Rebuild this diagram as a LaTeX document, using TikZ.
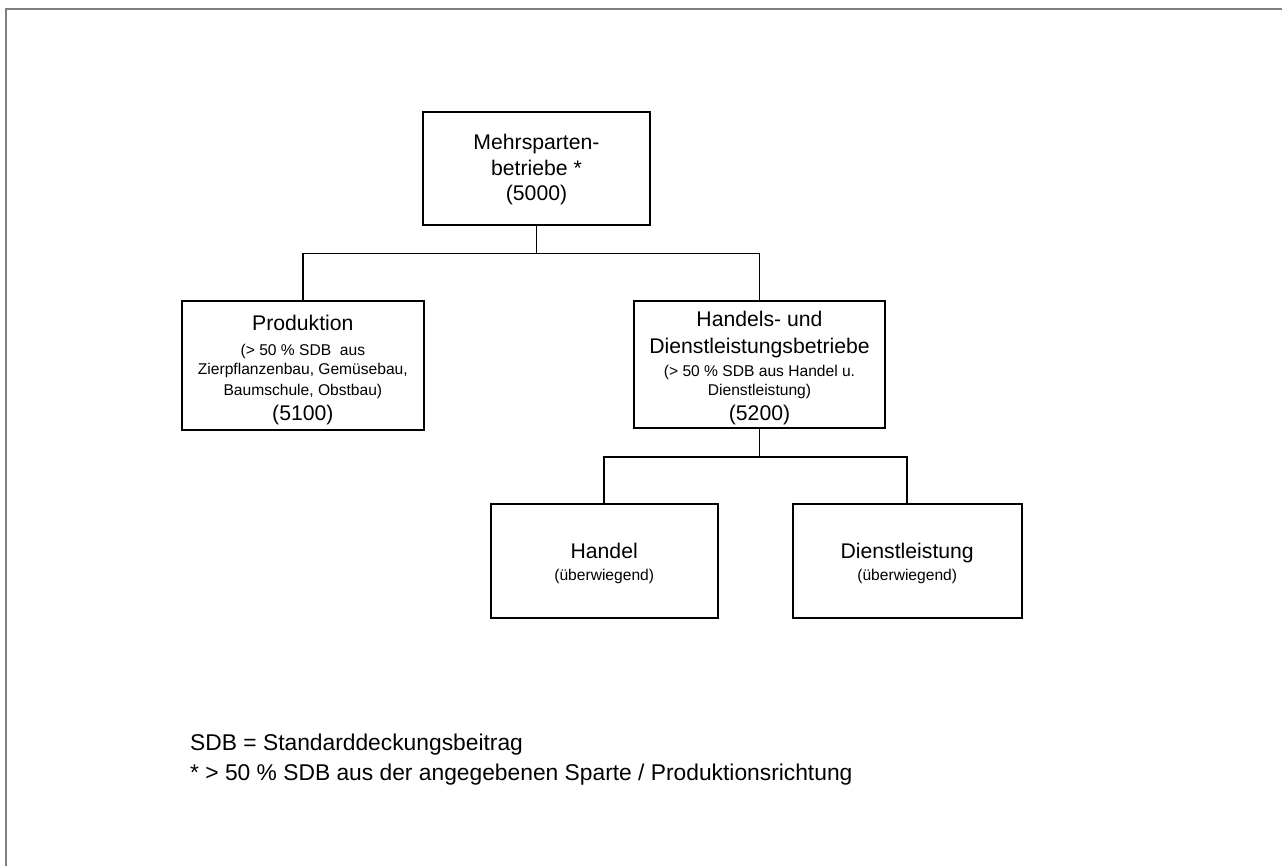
\documentclass[tikz,border=0pt]{standalone}
\usepackage{fontspec}
\setmainfont{Liberation Sans}
\definecolor{framegray}{RGB}{128,128,128}
\begin{document}
\begin{tikzpicture}[x=1pt,y=-1pt,
  box/.style={draw=black, line width=1.6pt, inner sep=0pt, outer sep=0pt},
  big/.style={font=\fontsize{21.2}{25}\selectfont, inner sep=0pt, anchor=base},
  small/.style={font=\fontsize{15.6}{19}\selectfont, inner sep=0pt, anchor=base},
  note/.style={font=\fontsize{22.8}{27}\selectfont, inner sep=0pt, anchor=base west},
  link/.style={draw=black, line width=1.5pt},
  frame/.style={draw=framegray, line width=2pt}]
\useasboundingbox (0,0) rectangle (1282,865);
\draw[frame] (6,866) -- (6,9) -- (1283,9);

% boxes
\node[box, minimum width=227pt, minimum height=113pt] (b5000) at (536.5,168.2) {};
\node[box, minimum width=242.3pt, minimum height=129.3pt] (b5100) at (302.85,365.35) {};
\node[box, minimum width=251pt, minimum height=127.3pt] (b5200) at (759.5,364.35) {};
\node[box, minimum width=227pt, minimum height=113.7pt] (bH) at (604.2,560.85) {};
\node[box, minimum width=229pt, minimum height=113.7pt] (bD) at (907.2,560.85) {};

% texts
\node[big] (t5000a) at (536.5,149) {Mehrsparten-};
\node[big] (t5000b) at (536.5,175) {betriebe *};
\node[big] (t5000c) at (536.5,200.7) {(5000)};

\node[big] (t5100a) at (302.85,330) {Produktion};
\node[small] (t5100b) at (302.85,355) {(> 50 \% SDB\ \ aus};
\node[small] (t5100c) at (302.85,374) {Zierpflanzenbau, Gemüsebau,};
\node[small] (t5100d) at (302.85,395) {Baumschule, Obstbau)};
\node[big] (t5100e) at (302.85,420.7) {(5100)};

\node[big] (t5200a) at (759.5,326.7) {Handels- und};
\node[big] (t5200b) at (759.5,353.3) {Dienstleistungsbetriebe};
\node[small] (t5200c) at (759.5,376.7) {(> 50 \% SDB aus Handel u.};
\node[small] (t5200d) at (759.5,395) {Dienstleistung)};
\node[big] (t5200e) at (759.5,420.7) {(5200)};

\node[big] (tHa) at (604.2,558.3) {Handel};
\node[small] (tHb) at (604.2,580.7) {(überwiegend)};
\node[big] (tDa) at (907.2,558.3) {Dienstleistung};
\node[small] (tDb) at (907.2,580.7) {(überwiegend)};

% connectors
\coordinate (bus1) at (0,253.3);
\coordinate (bus2) at (0,457);
\draw[link] (b5000.south) -- (b5000.south |- bus1) -| (b5100.north);
\draw[link] (b5000.south |- bus1) -| (b5200.north);
\draw[link] (b5200.south) -- (b5200.south |- bus2) -| (bH.north);
\draw[link] (b5200.south |- bus2) -| (bD.north);

% footnotes
\node[note] (n1) at (190,750.7) {SDB = Standarddeckungsbeitrag};
\node[note] (n2) at (190,780.7) {* > 50 \% SDB aus der angegebenen Sparte / Produktionsrichtung};
\end{tikzpicture}
\end{document}
